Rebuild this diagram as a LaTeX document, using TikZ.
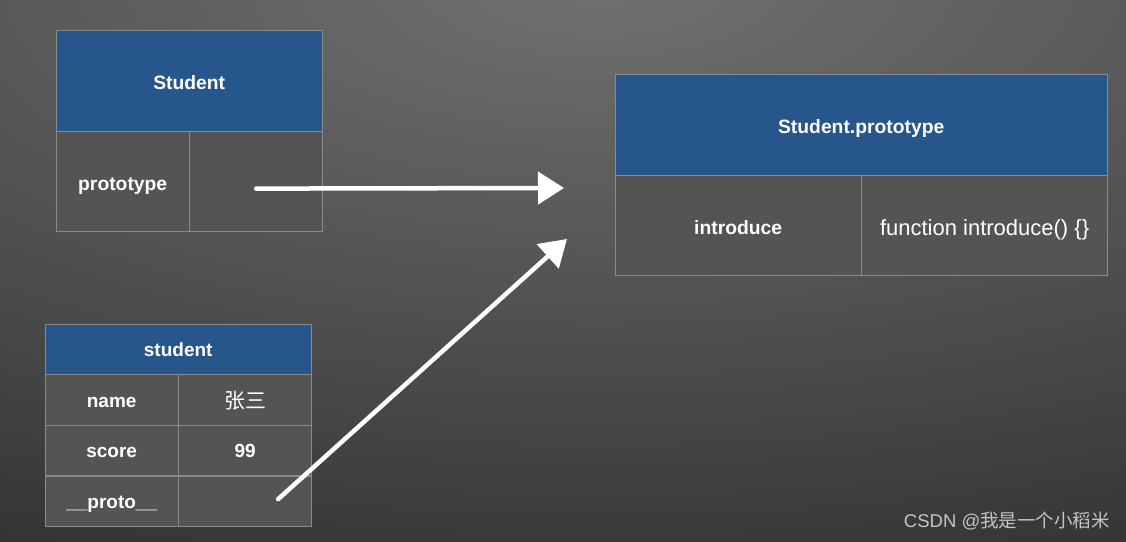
\documentclass[tikz,border=0pt]{standalone}
\usepackage{fontspec}
\setmainfont{Liberation Sans}
\newfontfamily\cjk{Noto Sans CJK SC}
\usepackage{tikz}
\usetikzlibrary{positioning, arrows.meta}

\definecolor{headblue}{RGB}{38,86,140}
\definecolor{cellgray}{RGB}{84,84,84}
\definecolor{edgegray}{RGB}{138,138,138}
\definecolor{bgdark}{RGB}{38,38,38}
\definecolor{bglight}{RGB}{112,114,113}
\definecolor{markgray}{RGB}{196,196,196}

\begin{document}
\begin{tikzpicture}[x=1pt, y=-1pt,
    head/.style={draw=edgegray, fill=headblue, text=white, inner sep=0pt},
    cell/.style={draw=edgegray, fill=cellgray, text=white, inner sep=0pt},
    bigbold/.style={font=\bfseries\fontsize{19.3}{21}\selectfont, text height=17pt, text depth=0pt},
    bigtext/.style={font=\fontsize{22}{24}\selectfont, text height=19pt, text depth=0pt},
    smallbold/.style={font=\bfseries\fontsize{19}{21}\selectfont, text height=15pt, text depth=0pt},
    chalk/.style={draw=white, line width=4.5pt, line cap=round,
        -{Triangle[length=26pt, width=32pt]}}]

\useasboundingbox (0,0) rectangle (1126,541);
\fill[bgdark] (0,0) rectangle (1126,541);
\begin{scope}
    \clip (0,0) rectangle (1126,541);
    \shade[inner color=bglight, outer color=bgdark] (600,-20) ellipse (1800pt and 760pt);
\end{scope}

% the constructor
\node[head, bigbold, minimum width=266pt, minimum height=101pt, anchor=north west] (ctorhead) at (56,30) {Student};
\node[cell, bigbold, minimum width=133pt, minimum height=100pt, below=0pt of ctorhead.south west, anchor=north west] (ctorkey) {prototype};
\node[cell, minimum width=133pt, minimum height=100pt, right=0pt of ctorkey.north east, anchor=north west] (ctorval) {};

% the prototype object
\node[head, bigbold, minimum width=492pt, minimum height=101pt, anchor=north west] (protohead) at (615,74) {Student.prototype};
\node[cell, bigbold, minimum width=246pt, minimum height=100pt, below=0pt of protohead.south west, anchor=north west] (protokey) {introduce};
\node[cell, bigtext, minimum width=246pt, minimum height=100pt, right=0pt of protokey.north east, anchor=north west] (protoval) {function introduce() \{\}};

% the instance
\node[head, smallbold, minimum width=266pt, minimum height=50pt, anchor=north west] (objhead) at (45,324) {student};
\node[cell, smallbold, minimum width=133pt, minimum height=50.3pt, below=0pt of objhead.south west, anchor=north west] (objkeyA) {name};
\node[cell, font=\cjk\fontsize{21}{23}\selectfont, text height=18pt, text depth=0pt, minimum width=133pt, minimum height=50.3pt, right=0pt of objkeyA.north east, anchor=north west] (objvalA) {张三};
\node[cell, smallbold, minimum width=133pt, minimum height=50.3pt, below=0pt of objkeyA.south west, anchor=north west] (objkeyB) {score};
\node[cell, smallbold, minimum width=133pt, minimum height=50.3pt, right=0pt of objkeyB.north east, anchor=north west] (objvalB) {99};
\node[cell, smallbold, minimum width=133pt, minimum height=50.3pt, below=0pt of objkeyB.south west, anchor=north west] (objkeyC) {\_\_proto\_\_};
\node[cell, minimum width=133pt, minimum height=50.3pt, right=0pt of objkeyC.north east, anchor=north west] (objvalC) {};

% chalk arrows
\coordinate (tipA) at (564,188);
\coordinate (tipB) at (567,239);
\draw[chalk] ([yshift=-7pt]ctorval.center) -- (tipA);
\draw[chalk] ([xshift=33pt, yshift=2pt]objvalC.center) -- (tipB);

\node[text=markgray, font=\fontsize{18.5}{20}\selectfont, anchor=south east, inner sep=0pt] (mark) at (1110,530) {CSDN @{\cjk 我是一个小稻米}};
\end{tikzpicture}
\end{document}
